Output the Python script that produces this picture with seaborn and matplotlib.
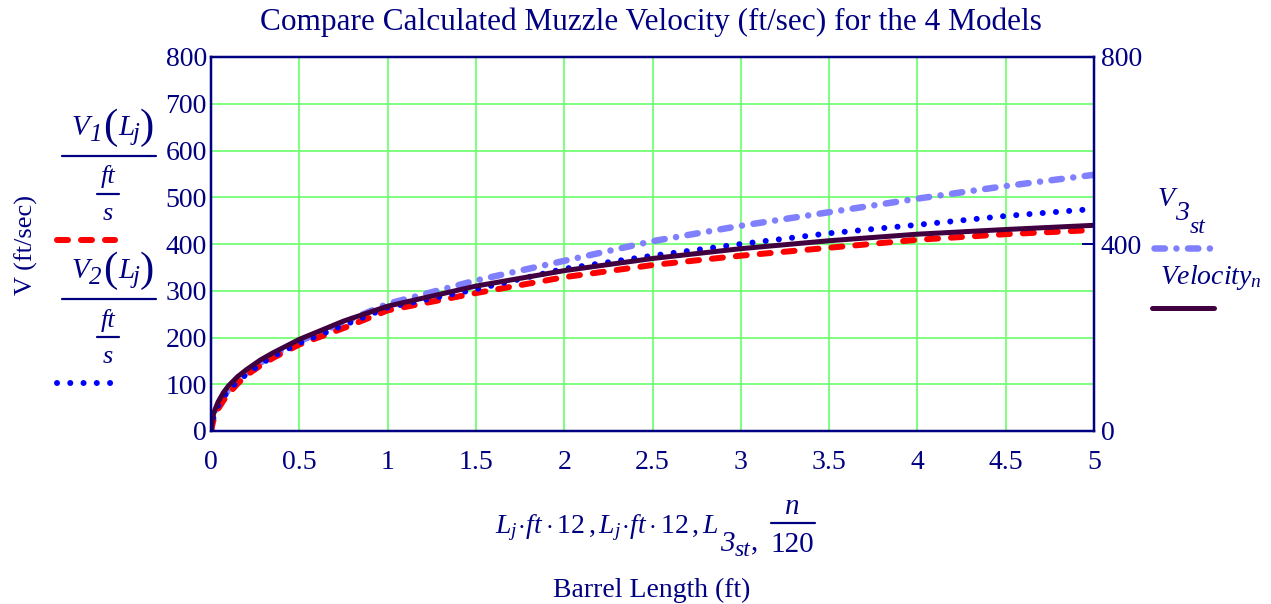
import matplotlib
matplotlib.use("Agg")
import matplotlib.pyplot as plt
import seaborn as sns
import pandas as pd
from matplotlib.lines import Line2D

# ---- data ----
barrel_ft = [0, 0.01, 0.02, 0.04, 0.07, 0.1, 0.15, 0.2, 0.28, 0.35, 0.5, 0.75, 1,
             1.5, 2, 2.5, 3, 3.5, 4, 4.5, 5]
v1_model = [0, 18, 30, 47, 65, 80, 101, 119, 140, 156, 185, 220, 258,
            295, 329, 355, 375, 392, 409, 421, 430]
v2_model = [0, 24, 36, 54, 72, 87, 106, 121, 143, 159, 188, 226, 264,
            303, 347, 375, 400, 423, 441, 460, 475]
v3_model = [0, 26, 38, 56, 74, 89, 108, 124, 146, 162, 192, 232, 272,
            322, 364, 406, 439, 468, 497, 524, 548]
velocity_n = [0, 30, 43, 62, 82, 97, 116, 131, 152, 167, 196, 235, 267,
              310, 343, 369, 390, 407, 421, 431, 440]

x_ticks = [0, 0.5, 1, 1.5, 2, 2.5, 3, 3.5, 4, 4.5, 5]
x_tick_labels = ["0", "0.5", "1", "1.5", "2", "2.5", "3", "3.5", "4", "4.5", "5"]
y_ticks = [0, 100, 200, 300, 400, 500, 600, 700, 800]
y2_ticks = [0, 400, 800]

title = "Compare Calculated Muzzle Velocity (ft/sec) for the 4 Models"
ylabel = "V (ft/sec)"
xlabel_main = r"$L_{j}\!\cdot\! ft\cdot 12\,,L_{j}\!\cdot\! ft\cdot 12\,,L$"
xlabel = "Barrel Length (ft)"

df = pd.DataFrame({"x": barrel_ft, "v1": v1_model, "v2": v2_model,
                   "v3": v3_model, "vn": velocity_n})

sns.set_theme(style="white")
plt.rcParams["font.family"] = ["Liberation Serif", "DejaVu Serif"]
plt.rcParams["mathtext.fontset"] = "custom"
plt.rcParams["mathtext.rm"] = "Liberation Serif"
plt.rcParams["mathtext.it"] = "Liberation Serif:italic"
plt.rcParams["mathtext.bf"] = "Liberation Serif:bold"

NAVY = "#000080"
RED = "#FF0000"
BLUE = "#0000FF"
LIGHT = "#8080FF"
DARK = "#400040"
GRID = "#80FF80"

W, H = 1271, 604
fig = plt.figure(figsize=(W / 100, H / 100), dpi=100)
ax = fig.add_axes([211 / W, 1 - 431 / H, (1094 - 211) / W, (431 - 57) / H])

px = 0.72  # points per pixel
RED_STYLE = dict(color=RED, linewidth=6 * px, linestyle=(0, (1.83, 2.17)), dash_capstyle="round")
BLUE_STYLE = dict(color=BLUE, linewidth=6 * px, linestyle=(0, (0.01, 2.2)), dash_capstyle="round")
LIGHT_STYLE = dict(color=LIGHT, linewidth=6.5 * px, linestyle=(0, (1.6, 1.77, 0.01, 1.77)),
                   dash_capstyle="round")
DARK_STYLE = dict(color=DARK, linewidth=5 * px)

sns.lineplot(data=df, x="x", y="v3", ax=ax, zorder=2, **LIGHT_STYLE)
sns.lineplot(data=df, x="x", y="v1", ax=ax, zorder=3, **RED_STYLE)
sns.lineplot(data=df, x="x", y="v2", ax=ax, zorder=4, **BLUE_STYLE)
sns.lineplot(data=df, x="x", y="vn", ax=ax, zorder=5, **DARK_STYLE)

FS = 20
ax.set_xlim(0, 5)
ax.set_ylim(0, 800)
ax.set_xticks(x_ticks)
ax.set_xticklabels(x_tick_labels)
ax.set_yticks(y_ticks)
ax.grid(True, color=GRID, linewidth=2 * px)
ax.set_axisbelow(True)
ax.set_xlabel("")
ax.set_ylabel("")
for s in ax.spines.values():
    s.set_color(NAVY)
    s.set_linewidth(2.5 * px)
    s.set_zorder(6)
ax.tick_params(axis="both", length=0, colors=NAVY, labelsize=FS)
ax.tick_params(axis="x", pad=14)
ax.tick_params(axis="y", pad=3)

ax2 = ax.twinx()
ax2.set_ylim(0, 800)
ax2.set_yticks(y2_ticks)
ax2.tick_params(axis="y", direction="in", length=12 * px, width=2 * px,
                colors=NAVY, labelsize=FS, pad=5)
for s in ax2.spines.values():
    s.set_visible(False)
ax2.grid(False)

def T(x, y, s, size=FS, **kw):
    kw.setdefault("ha", "center")
    kw.setdefault("va", "center")
    return fig.text(x / W, 1 - y / H, s, color=NAVY, fontsize=size, **kw)

def L(x0, x1, y, **kw):
    fig.add_artist(Line2D([x0 / W, x1 / W], [1 - y / H, 1 - y / H],
                          transform=fig.transFigure, **kw))

T(651, 22, title, size=22.5)
T(26, 245, ylabel, size=19, rotation=90)
T(652, 590, xlabel, size=20)

# x-axis expression, composed piece by piece
renderer = fig.canvas.get_renderer()
def right_px(t):
    return t.get_window_extent(renderer).x1
t = T(495, 533, xlabel_main, size=20, ha="left", va="baseline")
x = right_px(t) + 1
t = T(x, 551, "3", size=21, ha="left", va="baseline", style="italic")
x = right_px(t)
t = T(x, 556, "st", size=17, ha="left", va="baseline", style="italic")
x = right_px(t) + 1
t = T(x, 549, ",", size=21, ha="left", va="baseline")
xf = right_px(t) + 12
T(xf + 22, 507, "n", size=21, style="italic")
L(xf, xf + 44, 523, color=NAVY, linewidth=2.2 * px)
T(xf + 22, 545, "120", size=21)

# left legend: V1/(ft/s) and V2/(ft/s)
for name, dy, style in (("1", 0, RED_STYLE), ("2", 143, BLUE_STYLE)):
    T(71, 135 + dy, "V", size=21, style="italic", ha="left", va="baseline")
    T(89, 141 + dy, name, size=18, style="italic", ha="left", va="baseline")
    T(110, 128 + dy, "(", size=31, ha="center")
    T(118, 135 + dy, "L", size=21, style="italic", ha="left", va="baseline")
    T(133, 140 + dy, "j", size=18, style="italic", ha="left", va="baseline")
    T(147, 128 + dy, ")", size=31, ha="center")
    L(62, 156, 156 + dy, color=NAVY, linewidth=2.2 * px)
    T(108, 177 + dy, "ft", size=19, style="italic")
    L(97, 119, 194 + dy, color=NAVY, linewidth=2.2 * px)
    T(108, 214 + dy, "s", size=19, style="italic")
    L(57, 115, 240 + dy, **style)

# right legend
T(1166, 200, "V", size=20, style="italic")
T(1182, 213, "3", size=20, style="italic")
T(1198, 228, "st", size=17, style="italic")
L(1154, 1212, 248, **LIGHT_STYLE)
T(1160, 277, r"$Velocity_{n}$", size=20, ha="left")
L(1152, 1214, 308, **DARK_STYLE)

fig.savefig("out.png", dpi=100)
